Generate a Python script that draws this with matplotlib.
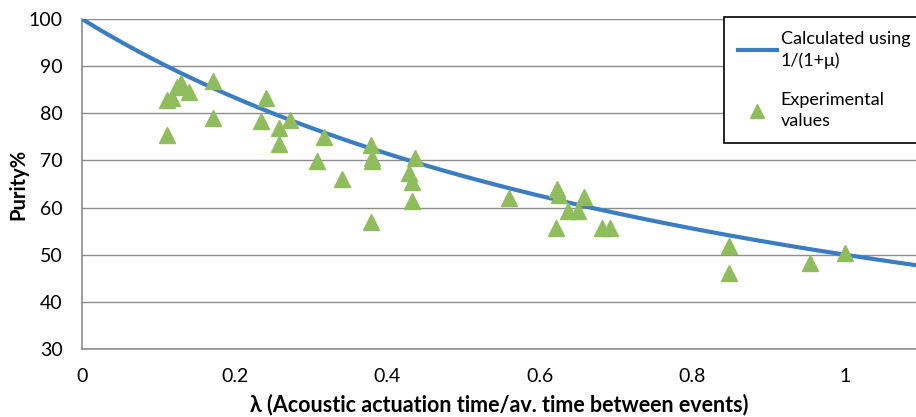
import numpy as np
import matplotlib.pyplot as plt

plt.rcParams['font.family'] = ['Lato', 'DejaVu Sans']

# Experimental points (lambda, purity %)
exp_lambda = [0.111, 0.112, 0.118, 0.125, 0.130, 0.140, 0.172, 0.172,
              0.235, 0.241, 0.258, 0.258, 0.273, 0.308, 0.317, 0.341,
              0.379, 0.380, 0.380, 0.379, 0.429, 0.432, 0.436, 0.432,
              0.560, 0.623, 0.625, 0.621, 0.637, 0.650, 0.658, 0.682,
              0.692, 0.848, 0.848, 0.954, 1.000]
exp_purity = [75.4, 82.8, 83.2, 85.5, 86.5, 84.5, 86.8, 79.0,
              78.4, 83.2, 76.9, 73.5, 78.6, 69.9, 75.0, 66.0,
              73.2, 70.6, 69.8, 57.0, 67.3, 65.4, 70.6, 61.4,
              62.0, 64.0, 62.6, 55.6, 59.2, 59.2, 62.2, 55.6,
              55.6, 51.8, 46.2, 48.2, 50.4]

x_ticks = [0, 0.2, 0.4, 0.6, 0.8, 1]
x_tick_labels = ["0", "0.2", "0.4", "0.6", "0.8", "1"]
y_ticks = [30, 40, 50, 60, 70, 80, 90, 100]

LINE_COLOR = "#3B7DC2"
TRI_COLOR = "#8FBC5C"
GRID_COLOR = "#8C8C8C"

fig = plt.figure(figsize=(9.16, 4.17), dpi=100)
ax = fig.add_axes([82 / 916, 1 - 349 / 417, 1 - 82 / 916, (349 - 19) / 417])

lam = np.linspace(0, 1.1, 300)
ax.plot(lam, 100 / (1 + lam), color=LINE_COLOR, linewidth=3,
        label="Calculated using\n1/(1+\u03bc)", zorder=3)
ax.plot(exp_lambda, exp_purity, linestyle="none", marker="^", markersize=12,
        color=TRI_COLOR, markeredgecolor=TRI_COLOR, label="Experimental\nvalues", zorder=4)

ax.set_xlim(0, (916 - 82) / 763)
ax.set_ylim(30, 100)
ax.set_xticks(x_ticks)
ax.set_xticklabels(x_tick_labels)
ax.set_yticks(y_ticks)
ax.tick_params(length=0, labelsize=14, colors="black")
ax.tick_params(axis="y", pad=14)
ax.tick_params(axis="x", pad=14)
ax.grid(axis="y", color=GRID_COLOR, linewidth=1)
ax.set_axisbelow(True)
for side in ["top", "right"]:
    ax.spines[side].set_visible(False)
for side in ["left", "bottom"]:
    ax.spines[side].set_color(GRID_COLOR)
    ax.spines[side].set_linewidth(1.2)

ax.set_ylabel("Purity%", fontsize=14.5, fontweight="bold", labelpad=0)
ax.set_xlabel("\u03bb (Acoustic actuation time/av. time between events)",
              fontsize=15.5, fontweight="bold", labelpad=6)

leg = ax.legend(loc="upper left", bbox_to_anchor=(724 / 916, 1 - 17 / 417),
                bbox_transform=fig.transFigure, fontsize=13, frameon=True,
                fancybox=False, edgecolor="black", framealpha=1,
                handlelength=2.2, labelspacing=1.3, borderpad=0.75,
                handletextpad=0.2, markerscale=0.8, borderaxespad=0)
leg.get_frame().set_linewidth(1.2)
for t in leg.get_texts():
    t.set_linespacing(1.4)

fig.savefig("out.png", dpi=100)
